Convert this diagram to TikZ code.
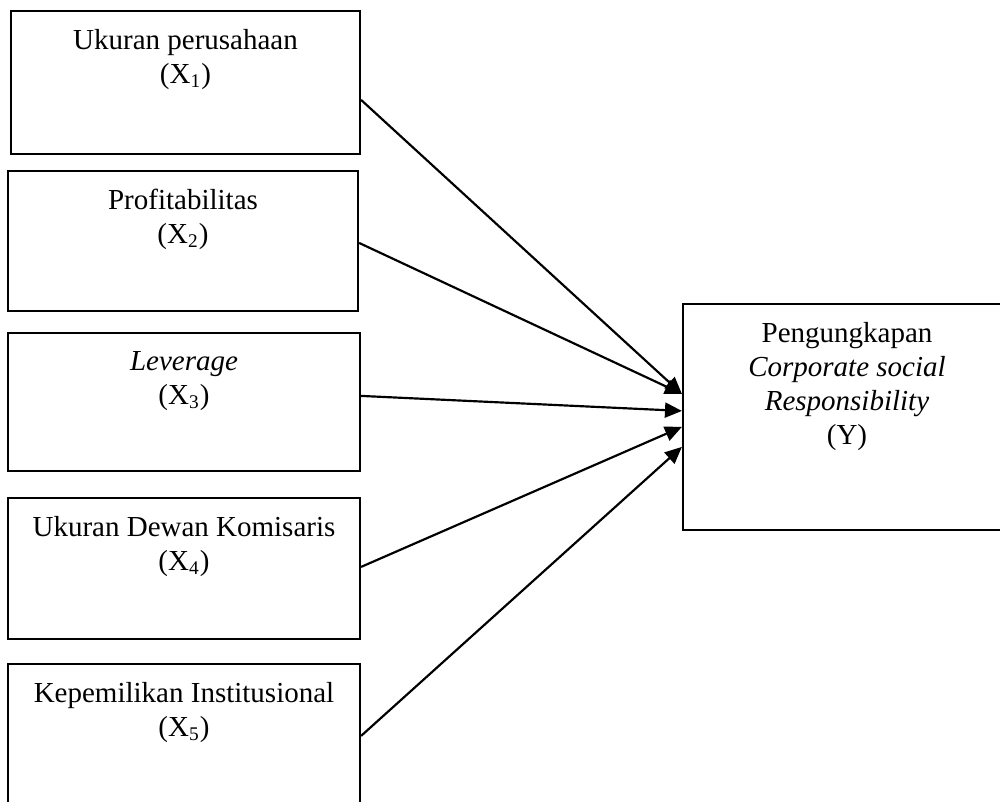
\documentclass[tikz,border=0pt]{standalone}
\usepackage{fontspec}
\setmainfont{Liberation Serif}
\usetikzlibrary{arrows.meta,calc}
\newcommand{\pxl}{0.4138pt}

\begin{document}
\begin{tikzpicture}[x=\pxl,y=-\pxl,
    box/.style={draw,line width=0.9pt,inner sep=0pt},
    caption/.style={anchor=north,align=center,inner sep=0pt,yshift=-19*\pxl,font=\fontsize{12}{14}\selectfont},
    link/.style={-{Triangle[length=7pt,width=6.2pt]},line width=0.9pt}]
    \clip (0,0) rectangle (1000,802);

    % variabel bebas
    \node[box,minimum width=349*\pxl,minimum height=143*\pxl] (x1) at (185.5,82.5) {};
    \node[box,minimum width=350*\pxl,minimum height=140*\pxl] (x2) at (183,241) {};
    \node[box,minimum width=352*\pxl,minimum height=138*\pxl] (x3) at (184,402) {};
    \node[box,minimum width=352*\pxl,minimum height=141*\pxl] (x4) at (184,568.5) {};
    \node[box,minimum width=352*\pxl,minimum height=147*\pxl] (x5) at (184,737.5) {};
    % variabel terikat
    \node[box,minimum width=328*\pxl,minimum height=226*\pxl] (y) at (847,417) {};

    \node[caption] (t1) at (x1.north) {Ukuran perusahaan\\(X\textsubscript{1})};
    \node[caption] (t2) at (x2.north) {Profitabilitas\\(X\textsubscript{2})};
    \node[caption] (t3) at (x3.north) {\textit{Leverage}\\(X\textsubscript{3})};
    \node[caption] (t4) at (x4.north) {Ukuran Dewan Komisaris\\(X\textsubscript{4})};
    \node[caption] (t5) at (x5.north) {Kepemilikan Institusional\\(X\textsubscript{5})};
    \node[caption] (ty) at (y.north) {Pengungkapan\\\textit{Corporate social}\\\textit{Responsibility}\\(Y)};

    \path[link]
    ($(x1.north east)+(0,90)$) edge ($(y.north west)+(0,91)$)
    ($(x2.north east)+(0,73)$) edge ($(y.north west)+(0,91)$)
    ($(x3.north east)+(0,64)$) edge ($(y.north west)+(0,108)$)
    ($(x4.north east)+(0,70)$) edge ($(y.north west)+(0,124)$)
    ($(x5.north east)+(0,73)$) edge ($(y.north west)+(0,144)$)
    ;
\end{tikzpicture}
\end{document}
